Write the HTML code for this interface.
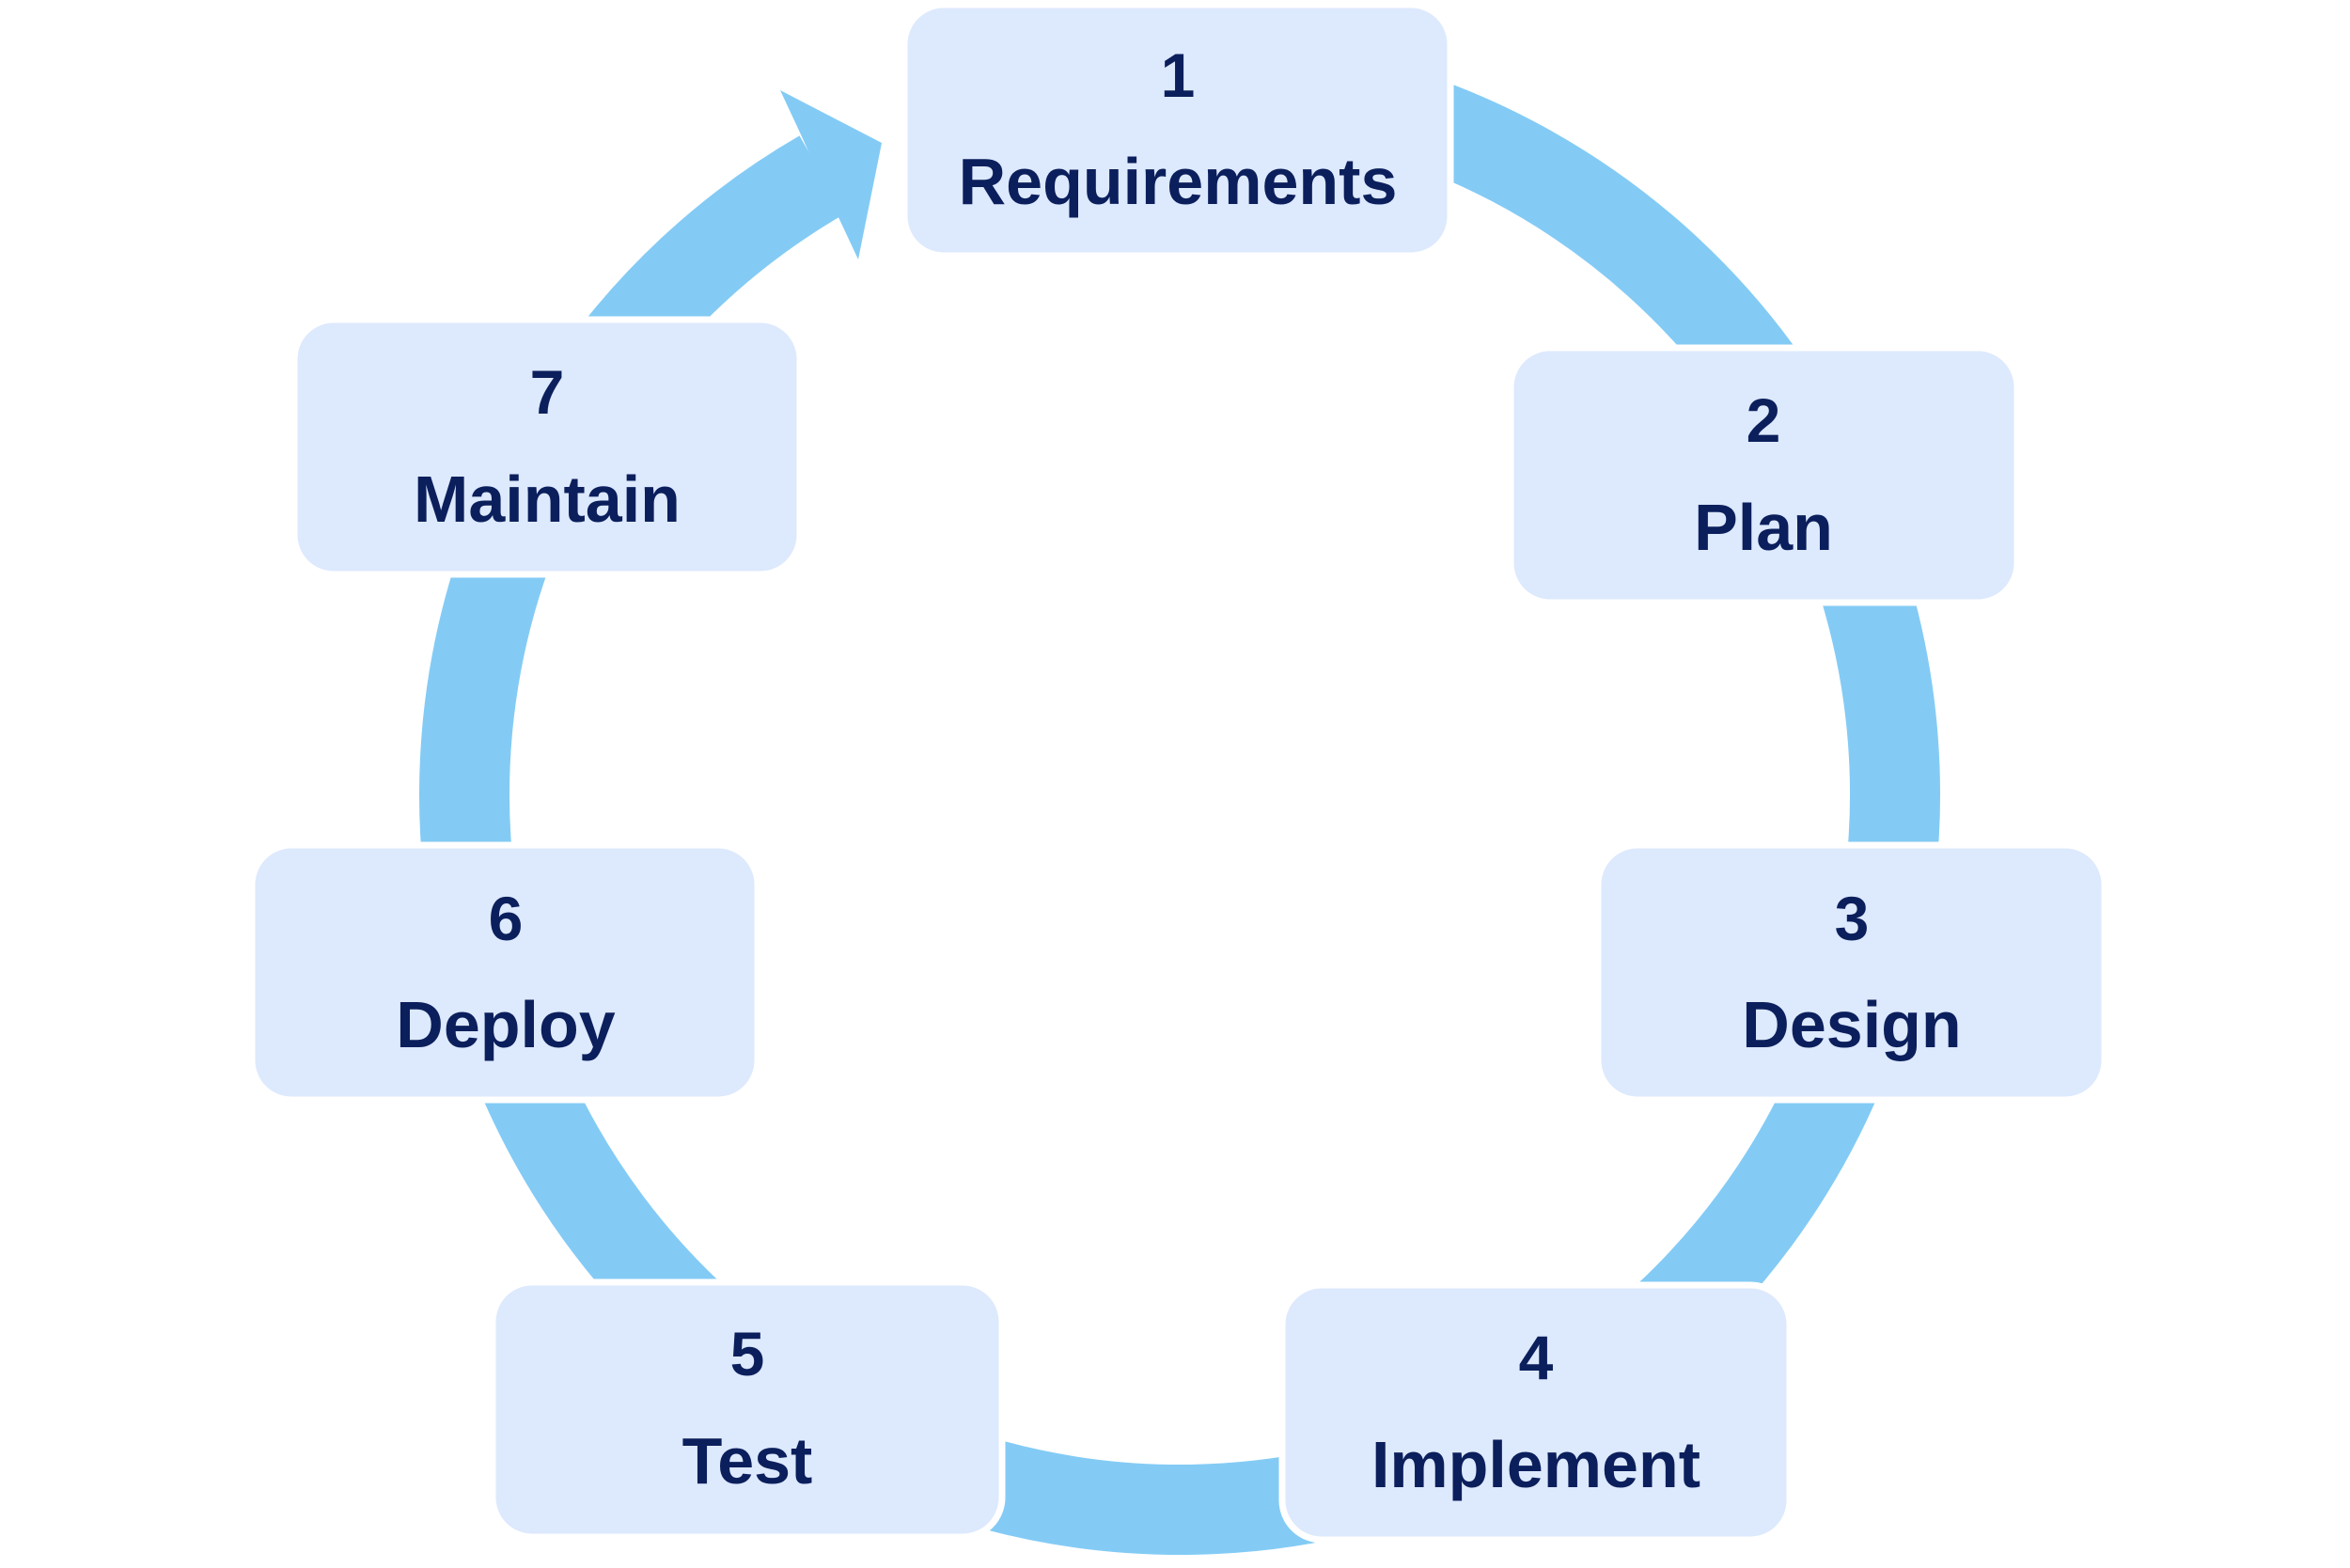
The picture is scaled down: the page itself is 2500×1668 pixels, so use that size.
<!DOCTYPE html>
<html><head><meta charset="utf-8"><style>
html,body{margin:0;padding:0;background:#fff;}
svg{display:block}
text{font-family:"Liberation Sans",sans-serif;font-weight:bold;fill:#0b1f5c;text-anchor:middle;}
</style></head><body>
<svg width="2500" height="1668" viewBox="0 0 2500 1668" xmlns="http://www.w3.org/2000/svg">
<path d="M1281.6 84.5 A761 761 0 1 1 874.5 186" fill="none" stroke="#83cbf5" stroke-width="96"/>
<polygon points="851,141 830,96 938,152 913,276 891,229" fill="#83cbf5"/>
<g stroke="#ffffff" stroke-width="7" fill="#dde9fd">
<rect x="962" y="5" width="581" height="267" rx="42"/>
<rect x="1607" y="370" width="539" height="271" rx="42"/>
<rect x="1700" y="899" width="539" height="271" rx="42"/>
<rect x="1364" y="1367" width="540" height="271" rx="42"/>
<rect x="524" y="1364" width="542" height="271" rx="42"/>
<rect x="268" y="899" width="538" height="271" rx="42"/>
<rect x="313" y="340" width="538" height="271" rx="42"/>
</g>
<g font-size="66">
<text x="1253" y="103">1</text>
<text x="1876" y="470">2</text>
<text x="1970" y="1000">3</text>
<text x="1634" y="1467">4</text>
<text x="795" y="1463">5</text>
<text x="538" y="1000">6</text>
<text x="582" y="440">7</text>
</g>
<g font-size="70">
<text x="1253" y="217">Requirements</text>
<text x="1876" y="585">Plan</text>
<text x="1970" y="1114">Design</text>
<text x="1634" y="1582">Implement</text>
<text x="795" y="1578">Test</text>
<text x="538" y="1114">Deploy</text>
<text x="582" y="555">Maintain</text>
</g>
</svg>
</body></html>
